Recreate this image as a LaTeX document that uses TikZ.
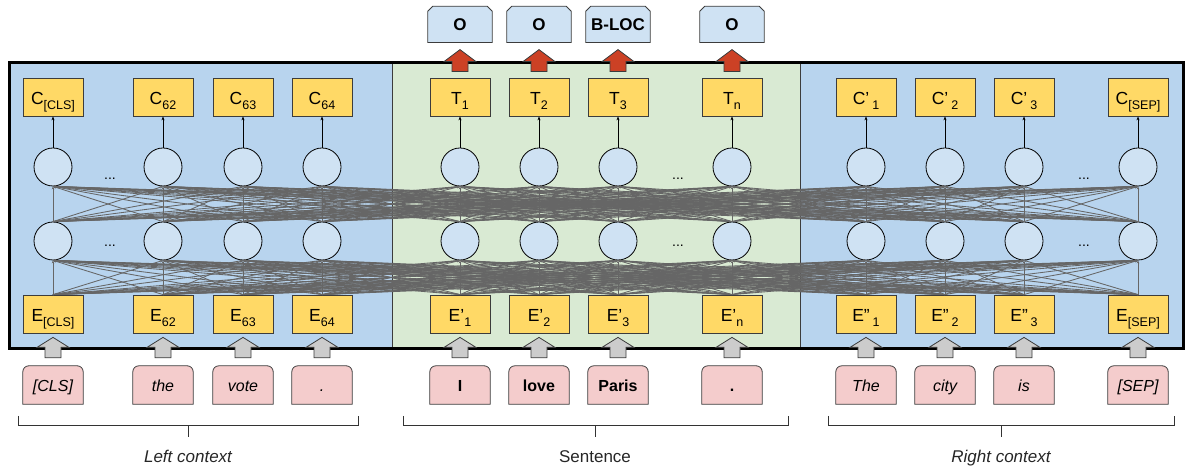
\documentclass[tikz,border=0pt]{standalone}
\usepackage{fontspec}
\setmainfont{Liberation Sans}
\usetikzlibrary{arrows.meta,calc,positioning,backgrounds}
\definecolor{panelblue}{HTML}{B8D4EE}
\definecolor{panelgreen}{HTML}{D9EAD3}
\definecolor{cellblue}{HTML}{CFE2F3}
\definecolor{embyellow}{HTML}{FFD966}
\definecolor{tokpink}{HTML}{F4CCCC}
\definecolor{outred}{HTML}{CC4125}
\definecolor{ingray}{HTML}{CCCCCC}
\definecolor{meshgray}{HTML}{666666}
\definecolor{edge}{HTML}{3C3C3C}
\newcommand{\lo}[1]{\raisebox{-5pt}{\fontsize{12.5}{12.5}\selectfont #1}}

\begin{document}
\begin{tikzpicture}[x=1pt, y=1pt,
    vecbox/.style={draw=edge, line width=0.8pt, fill=embyellow, minimum width=60pt, minimum height=38pt,
      inner sep=0pt, text height=16pt, text depth=0pt, font=\fontsize{17.5}{17.5}\selectfont},
    cell/.style={circle, draw=black, line width=0.8pt, fill=cellblue, minimum size=38pt, inner sep=0pt},
    tag/.style={minimum width=64pt, minimum height=36pt, inner sep=0pt, text height=12pt, text depth=0pt,
      font=\bfseries\fontsize{17}{17}\selectfont},
    tagshape/.style={draw=edge, line width=0.8pt, fill=cellblue},
    token/.style={minimum width=60pt, minimum height=38pt, inner sep=0pt, text height=14pt, text depth=0pt,
      font=\fontsize{16}{16}\selectfont},
    tokshape/.style={draw=edge, line width=0.8pt, fill=tokpink},
    panel/.style={draw=edge, line width=0.7pt},
    mesh/.style={draw=meshgray, line width=0.85pt, -{Stealth[length=3pt,width=2.5pt]}},
    up/.style={draw=black, line width=0.7pt, -{Stealth[length=4pt,width=3pt]}},
    fat/.style={draw=edge, line width=0.8pt, line join=miter},
    brace/.style={draw=black!80, line width=1pt},
    dots/.style={font=\fontsize{14}{14}\selectfont, anchor=base},
    ctx/.style={font=\fontsize{17}{17}\selectfont, text=black!85, anchor=base},
  ]
  \useasboundingbox (0,0) rectangle (1186,468);

  % three context panels and the outer frame
  \draw[panel, fill=panelblue] (9,119) rectangle (392,405);
  \draw[panel, fill=panelgreen] (392,119) rectangle (800,405);
  \draw[panel, fill=panelblue] (800,119) rectangle (1183,405);
  \draw[line width=3pt] (9,119) rectangle (1183,405);

  % one column per token
  \foreach \x/\ct/\et/\wt [count=\i] in {
      53/{C\lo{[CLS]}}/{E\lo{[CLS]}}/{\itshape [CLS]},
      163/{C\lo{62}}/{E\lo{62}}/{\itshape the},
      243/{C\lo{63}}/{E\lo{63}}/{\itshape vote},
      322/{C\lo{64}}/{E\lo{64}}/{\itshape .},
      460/{T\lo{1}}/{E’\lo{1}}/{\bfseries I},
      539/{T\lo{2}}/{E’\lo{2}}/{\bfseries love},
      618/{T\lo{3}}/{E’\lo{3}}/{\bfseries Paris},
      732/{T\lo{n}}/{E’\lo{n}}/{\bfseries .},
      866/{C’\,\lo{1}}/{E”\,\lo{1}}/{\itshape The},
      945/{C’\,\lo{2}}/{E”\,\lo{2}}/{\itshape city},
      1024/{C’\,\lo{3}}/{E”\,\lo{3}}/{\itshape is},
      1138/{C\lo{[SEP]}}/{E\lo{[SEP]}}/{\itshape [SEP]}} {
    \node[vecbox] (c\i) at (\x,371) {\ct};
    \node[cell] (u\i) at (\x,301) {};
    \node[cell] (l\i) at (\x,227) {};
    \node[vecbox] (e\i) at (\x,154) {\et};
    \node[token] (w\i) at (\x,83) {\wt};
  }
  % output tags
  \foreach \i/\t in {5/O, 6/O, 7/B-LOC, 8/O}
    \node[tag, above=35pt of c\i] (o\i) {\t};

  \begin{scope}[on background layer]
    \foreach \i in {1,...,12}
      \draw[tokshape] (w\i.south west) -- ([yshift=-6pt]w\i.north west)
        arc[start angle=180, end angle=90, radius=6pt] -- ([xshift=-6pt]w\i.north east)
        arc[start angle=90, end angle=0, radius=6pt] -- (w\i.south east) -- cycle;
    \foreach \i in {5,...,8}
      \draw[tagshape] (o\i.south west) -- ([yshift=-5pt]o\i.north west) -- ([xshift=5pt]o\i.north west)
        -- ([xshift=-5pt]o\i.north east) -- ([yshift=-5pt]o\i.north east) -- (o\i.south east) -- cycle;
  \end{scope}

  \node[dots] (dotsl2) at (110,288) {...};
  \node[dots] (dotsl1) at (110,221) {...};
  \node[dots] (dotsm2) at (678,288) {...};
  \node[dots] (dotsm1) at (678,221) {...};
  \node[dots] (dotsr2) at (1084,288) {...};
  \node[dots] (dotsr1) at (1084,221) {...};

  % fully connected layers
  \foreach \i in {1,...,12}
    \foreach \j in {1,...,12} {
      \draw[mesh] (e\i.north) -- (l\j.south);
      \draw[mesh] (l\i.north) -- (u\j.south);
    }
  \foreach \i in {1,...,12}
    \draw[up] (u\i.north) -- (c\i.south);

  % output arrows
  \foreach \i in {5,...,8}
    \draw[fat, fill=outred] ($(c\i.north)+(-8,6)$) -- ($(c\i.north)+(8,6)$) -- ($(o\i.south)+(8,-19)$)
      -- ($(o\i.south)+(16,-19)$) -- ($(o\i.south)+(0,-7)$) -- ($(o\i.south)+(-16,-19)$)
      -- ($(o\i.south)+(-8,-19)$) -- cycle;
  % input arrows
  \foreach \i in {1,...,12}
    \draw[fat, fill=ingray] ($(w\i.north)+(-8,8)$) -- ($(w\i.north)+(8,8)$) -- ($(e\i.south)+(8,-14)$)
      -- ($(e\i.south)+(16,-14)$) -- ($(e\i.south)+(0,-4)$) -- ($(e\i.south)+(-16,-14)$)
      -- ($(e\i.south)+(-8,-14)$) -- cycle;

  % brackets under the tokens
  \draw[brace] (18,52) -- (18,42) -- (358,42) -- (358,52) (188,42) -- (188,31);
  \draw[brace] (403,52) -- (403,42) -- (788,42) -- (788,52) (595,42) -- (595,31);
  \draw[brace] (828,52) -- (828,42) -- (1174,42) -- (1174,52) (1001,42) -- (1001,31);
  \node[ctx] (leftctx) at (188,5) {\itshape Left context};
  \node[ctx] (sent) at (595,5) {Sentence};
  \node[ctx] (rightctx) at (1001,5) {\itshape Right context};
\end{tikzpicture}
\end{document}
